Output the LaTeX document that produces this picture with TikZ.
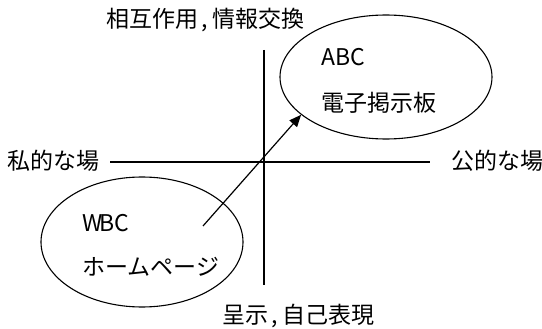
\documentclass[tikz,border=0pt]{standalone}
\usepackage{fontspec}
\setmainfont{Noto Sans CJK JP}
\usetikzlibrary{shapes.geometric,arrows.meta}
\begin{document}
\begin{tikzpicture}[x=1pt,y=-1pt,
  lbl/.style={inner sep=0pt,anchor=west,font=\fontsize{23}{26}\selectfont},
  oval/.style={draw,ellipse,line width=1.1pt,inner sep=0pt},
  axis/.style={line width=1.3pt},
  link/.style={line width=1.2pt,-{Triangle[length=12pt,width=10pt]}}]
\useasboundingbox (0,0) rectangle (542,329);
% ellipses
\node[oval,minimum width=212pt,minimum height=124pt] (abc) at (386,77) {};
\node[oval,minimum width=202pt,minimum height=130pt] (wbc) at (142,242) {};
% axes
\coordinate (vt) at (264,50);
\coordinate (vb) at (264,285);
\coordinate (hl) at (110,162);
\coordinate (hr) at (430,162);
\draw[axis] (vt) -- (vb);
\draw[axis] (hl) -- (hr);
% axis labels
\node[lbl] (top) at (106,20) {相互作用\kern3pt, 情報交換};
\node[lbl] (bot) at (222,316) {呈示\kern3pt, 自己表現};
\node[lbl] (left) at (7,161) {私的な場};
\node[lbl] (right) at (451,161) {公的な場};
% ellipse texts
\node[lbl] (abct) at (321,57) {ABC};
\node[lbl] (abcj) at (321,103) {電子掲示板};
\node[lbl] (wbct) at (82,223) {W\kern-3pt BC};
\node[lbl] (wbcj) at (82,267) {ホームページ};
% arrow
\coordinate (s) at (203,226);
\draw[link] (s) -- (abc.204);
\end{tikzpicture}
\end{document}
